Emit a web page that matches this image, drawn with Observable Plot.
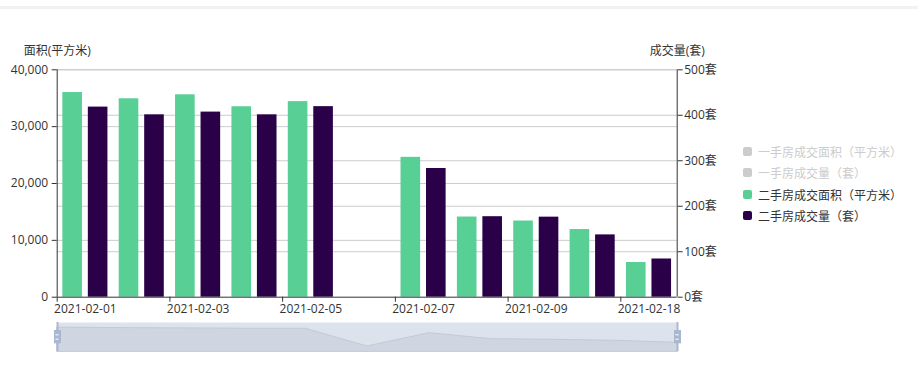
<!DOCTYPE html>
<html><head><meta charset="utf-8">
<script src="https://cdn.jsdelivr.net/npm/d3@7"></script>
<script src="https://cdn.jsdelivr.net/npm/@observablehq/plot@0.6"></script>
<style>
body{margin:0;background:#fff;font-family:"Open Sans","Noto Sans CJK SC",sans-serif;}
#wrap{position:relative;width:918px;height:370px;overflow:hidden;background:#fff;}
#topline{position:absolute;left:0;top:6px;width:918px;height:3px;background:#f2f2f2;}
#chart,#slider{position:absolute;left:0;}
#chart{top:0;}
#slider{top:316px;}
#legend{position:absolute;left:743px;top:140.5px;font-size:12px;line-height:21.5px;font-family:"Noto Sans CJK SC",sans-serif;}
.item{height:21.5px;display:flex;align-items:center;white-space:nowrap;}
.sw{width:9px;height:9px;border-radius:2px;margin-right:6px;flex:none;}
</style>
</head><body>
<div id="wrap">
  <div id="topline"></div>
  <div id="chart"></div>
  <div id="slider"></div>
  <div id="legend"></div>
</div>
<script>
// ---- data ----
const dates = ["2021-02-01","2021-02-02","2021-02-03","2021-02-04","2021-02-05","2021-02-06","2021-02-07","2021-02-08","2021-02-09","2021-02-10","2021-02-18"];
const area = [36000, 34900, 35600, 33500, 34400, null, 24600, 14100, 13400, 11900, 6100];   // 二手房成交面积（平方米）
const volume = [418, 401, 407, 401, 419, null, 283, 177, 176, 137, 84];                        // 二手房成交量（套）
const areaTicks = [0, 10000, 20000, 30000, 40000];
const volumeTicks = [0, 100, 200, 300, 400, 500];
const labelDates = ["2021-02-01","2021-02-03","2021-02-05","2021-02-07","2021-02-09","2021-02-18"];
const sliderShape = [0.823, 0.809, 0.799, 0.788, 0.788, 0.181, 0.635, 0.430, 0.410, 0.375, 0.307];
const legendNames = ["一手房成交面积（平方米）","一手房成交量（套）","二手房成交面积（平方米）","二手房成交量（套）"];
const legendActive = [false, false, true, true];
const leftName = "面积(平方米)";
const rightName = "成交量(套)";

// ---- styling ----
const green = "#57cf95", dark = "#2a0049", legendColors = ["#cccccc","#cccccc",green,dark];
const W = 918, H = 370, ml = 56.7, mr = 241.3, mt = 69.3, mb = 73.3;
const bw = (W - ml - mr) / dates.length;
const gap = bw * 0.1, barW = (bw * 0.8) / 2.3, inner = barW * 0.3;
const k = areaTicks[areaTicks.length-1] / volumeTicks[volumeTicks.length-1];
const rows = dates.map((d, i) => ({date: d, area: area[i], volume: volume[i]}));
const font = {fontFamily: '"Open Sans","Noto Sans CJK SC",sans-serif', fontSize: "12px", color: "#333", background: "transparent", overflow: "visible"};

const chart = Plot.plot({
  width: W, height: H, marginLeft: ml, marginRight: mr, marginTop: mt, marginBottom: mb,
  style: font,
  x: {type: "band", domain: dates, padding: 0, round: false},
  y: {domain: [areaTicks[0], areaTicks[areaTicks.length-1]]},
  marks: [
    Plot.ruleY(areaTicks.filter(v => v > 0), {stroke: "#cccccc"}),
    Plot.ruleY(volumeTicks.filter(v => v > 0).map(v => v * k), {stroke: "#cccccc"}),
    Plot.barY(rows.filter(d => d.area != null), {x: "date", y: "area", fill: green, insetLeft: gap, insetRight: bw - gap - barW}),
    Plot.barY(rows.filter(d => d.volume != null), {x: "date", y: d => d.volume * k, fill: dark, insetLeft: gap + barW + inner, insetRight: gap}),
    Plot.ruleY([0], {stroke: "#333"}),
    Plot.ruleX([dates[0]], {dx: -bw/2, y1: areaTicks[0], y2: areaTicks[areaTicks.length-1], stroke: "#333"}),
    Plot.ruleX([dates[dates.length-1]], {dx: bw/2, y1: areaTicks[0], y2: areaTicks[areaTicks.length-1], stroke: "#333"}),
    Plot.axisY({anchor: "left", ticks: areaTicks, tickFormat: d3.format(","), tickSize: 5, tickPadding: 4, label: null, stroke: "#333", fill: "#333"}),
    Plot.axisY({anchor: "right", ticks: volumeTicks.map(v => v * k), tickFormat: d => Math.round(d / k) + "套", tickSize: 5, tickPadding: 2, label: null, stroke: "#333", fill: "#333"}),
    Plot.axisX({ticks: labelDates, tickSize: 5, tickFormat: () => "", dx: -bw/2, label: null, stroke: "#333"}),
    Plot.axisX({ticks: labelDates, tickSize: 0, tickPadding: 7, label: null, fill: "#333"}),
    Plot.text([leftName], {text: d => d, frameAnchor: "top-left", dy: -23, textAnchor: "middle", fill: "#333"}),
    Plot.text([rightName], {text: d => d, frameAnchor: "top-right", dy: -23, textAnchor: "middle", fill: "#333"})
  ]
});
document.getElementById("chart").appendChild(chart);

const n = sliderShape.length;
const handles = [0, n - 1];
const grips = handles.flatMap(h => [{x: h, y: 0.58}, {x: h, y: 0.43}]);
const slider = Plot.plot({
  width: W, height: 40, marginLeft: 57, marginRight: 241, marginTop: 6, marginBottom: 4.7,
  style: font,
  x: {domain: [0, n - 1], axis: null},
  y: {domain: [0, 1], axis: null},
  marks: [
    Plot.frame({fill: "#dde3ec", stroke: null}),
    Plot.areaY(sliderShape, {x: (d, i) => i, y: d => d, fill: "#cfd6e1", stroke: "#c2cad7"}),
    Plot.ruleX(handles, {stroke: "#acb8cc", strokeWidth: 2}),
    Plot.ruleX(handles, {y1: 0.273, y2: 0.727, stroke: "#a9b7cf", strokeWidth: 7}),
    Plot.ruleY(grips, {y: "y", x1: d => d.x - 0.026, x2: d => d.x + 0.026, stroke: "#fff", strokeWidth: 1})
  ]
});
document.getElementById("slider").appendChild(slider);

const legend = document.getElementById("legend");
legendNames.forEach((name, i) => {
  const it = document.createElement("div");
  it.className = "item";
  it.style.color = legendActive[i] ? "#333" : "#cccccc";
  const sw = document.createElement("span");
  sw.className = "sw";
  sw.style.background = legendColors[i];
  it.appendChild(sw);
  it.appendChild(document.createTextNode(name));
  legend.appendChild(it);
});
</script>
</body></html>
